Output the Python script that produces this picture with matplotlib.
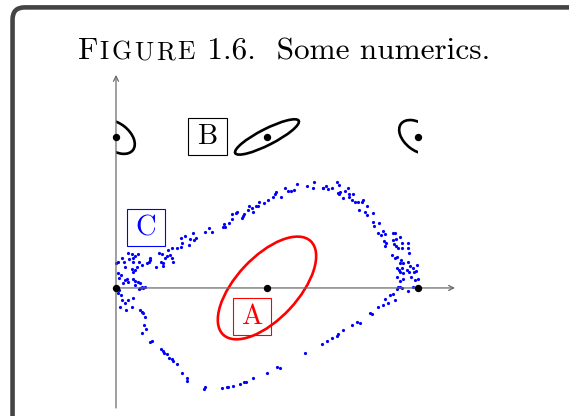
import numpy as np
import matplotlib.pyplot as plt
from matplotlib.patches import Ellipse, Rectangle, FancyBboxPatch

FONT = "cmr10"

# fixed points of the map: hyperbolic on the axis ends, elliptic in between
fixed_x = [0, 1, 2, 0, 1, 2]
fixed_y = [0, 0, 0, 1, 1, 1]

# invariant curve around (1, 0): centre x, centre y, semi-axes, tilt in degrees
curve_A = (1.0, 0.0, 0.424, 0.205, 47)
# islands on the upper row; x = 0 and x = 2 are the same point (periodic)
island_edge = (0.142, 0.089, -38)
island_mid = (1.0, 1.0, 0.236, 0.053, 27)

labels = ["A", "B", "C"]
label_x = [0.901, 0.606, 0.197]
label_y = [-0.190, 1.002, 0.399]
label_col = ["red", "black", "blue"]

# one long chaotic orbit, split by where it sits
orbit_left = [
    (0.000, 0.163), (0.015, 0.174), (0.038, 0.196), (0.053, 0.174), (0.060, 0.141),
    (0.082, 0.234), (0.104, 0.225), (0.088, 0.190), (0.110, 0.196), (0.115, 0.174),
    (0.126, 0.212), (0.148, 0.225), (0.155, 0.174), (0.170, 0.152), (0.141, 0.137),
    (0.126, 0.119), (0.115, 0.108), (0.104, 0.124), (0.015, 0.097), (0.031, 0.086),
    (0.022, 0.064), (0.060, 0.053), (0.049, 0.035), (0.082, 0.042), (0.071, 0.057),
    (0.115, 0.057), (0.126, 0.049), (0.148, 0.042), (0.159, 0.031), (0.126, 0.020),
    (0.159, -0.002), (0.170, 0.009), (0.181, -0.002), (0.192, 0.009), (0.155, -0.009),
    (0.022, -0.013), (0.015, -0.035), (0.031, -0.046), (0.038, -0.079), (0.060, -0.097),
    (0.082, -0.079), (0.104, -0.124), (0.115, -0.068), (0.026, -0.128), (0.066, -0.146),
    (0.159, -0.146), (0.170, -0.157), (0.181, -0.168), (0.192, -0.190), (0.287, 0.234),
    (0.302, 0.225), (0.296, 0.174), (0.313, 0.163), (0.309, 0.146), (0.265, 0.141),
    (0.325, 0.196), (0.336, 0.212), (0.358, 0.219), (0.369, 0.196), (0.375, 0.174),
    (0.347, 0.252), (0.369, 0.263), (0.402, 0.263), (0.225, 0.185), (0.221, 0.174),
    (0.203, 0.163), (0.225, 0.196),
]
orbit_upper = [
    (0.428, 0.329), (0.435, 0.296), (0.430, 0.274), (0.457, 0.344), (0.490, 0.325),
    (0.486, 0.285), (0.512, 0.366), (0.517, 0.318), (0.530, 0.333), (0.589, 0.369),
    (0.618, 0.400), (0.634, 0.373), (0.706, 0.406), (0.715, 0.422), (0.722, 0.406),
    (0.751, 0.428), (0.766, 0.455), (0.766, 0.488), (0.795, 0.494), (0.799, 0.501),
    (0.832, 0.466), (0.843, 0.479), (0.848, 0.488), (0.872, 0.517), (0.881, 0.545),
    (0.898, 0.532), (0.909, 0.505), (0.927, 0.545), (0.938, 0.545), (0.947, 0.572),
    (0.980, 0.561), (1.009, 0.583), (1.038, 0.600), (1.053, 0.620), (1.057, 0.638),
    (1.091, 0.605), (1.119, 0.660), (1.141, 0.645),
    (1.157, 0.642), (1.179, 0.649), (1.201, 0.687), (1.267, 0.675), (1.302, 0.664),
    (1.311, 0.700), (1.369, 0.660), (1.373, 0.664), (1.391, 0.678), (1.406, 0.653),
    (1.430, 0.664), (1.466, 0.700), (1.479, 0.682), (1.483, 0.634), (1.468, 0.627),
    (1.479, 0.621), (1.505, 0.594), (1.517, 0.642), (1.539, 0.660), (1.545, 0.621),
    (1.545, 0.605), (1.572, 0.623), (1.561, 0.583), (1.583, 0.568), (1.605, 0.568),
    (1.609, 0.517), (1.638, 0.583),
]
orbit_right = [
    (1.627, 0.572), (1.660, 0.543), (1.649, 0.505), (1.660, 0.483), (1.700, 0.499),
    (1.704, 0.439), (1.709, 0.411), (1.744, 0.433), (1.737, 0.366), (1.753, 0.351),
    (1.766, 0.377), (1.781, 0.355), (1.775, 0.313), (1.788, 0.300), (1.781, 0.278),
    (1.837, 0.362), (1.848, 0.366), (1.854, 0.322), (1.837, 0.318), (1.843, 0.291),
    (1.854, 0.278), (1.881, 0.340), (1.892, 0.296), (1.870, 0.263), (1.892, 0.263),
    (1.932, 0.296), (1.936, 0.263), (1.943, 0.234), (1.826, 0.219), (1.848, 0.196),
    (1.859, 0.203), (1.885, 0.185), (1.881, 0.163), (1.903, 0.168), (1.936, 0.174),
    (1.947, 0.146), (1.996, 0.152), (1.863, 0.130), (1.876, 0.119), (1.881, 0.108),
    (1.892, 0.130), (1.898, 0.101), (1.925, 0.119), (1.943, 0.108), (1.965, 0.130),
    (1.976, 0.108), (1.987, 0.115), (1.859, 0.075), (1.881, 0.048), (1.903, 0.058),
    (1.951, 0.071), (1.980, 0.053), (2.002, 0.058), (1.870, 0.009), (1.881, 0.004),
    (1.892, -0.002), (1.863, -0.009), (1.936, -0.018), (1.969, 0.009), (1.815, -0.046),
    (1.837, -0.042), (1.781, -0.075),
]
orbit_lower = [
    (1.848, -0.079), (1.804, -0.101), (1.770, -0.113), (1.737, -0.128), (1.682, -0.164),
    (1.693, -0.174), (1.616, -0.234), (1.594, -0.223), (1.561, -0.245), (1.506, -0.278),
    (1.472, -0.305), (1.461, -0.318), (1.428, -0.333), (1.395, -0.351), (1.362, -0.371),
    (1.252, -0.433), (1.086, -0.532), (1.064, -0.525), (0.998, -0.565),
    (0.905, -0.596), (0.861, -0.623), (0.850, -0.623), (0.821, -0.638), (0.777, -0.647),
    (0.744, -0.658), (0.733, -0.658), (0.704, -0.662), (0.585, -0.667), (0.589, -0.658),
    (0.470, -0.616), (0.472, -0.594), (0.439, -0.563), (0.402, -0.503), (0.375, -0.486),
    (0.369, -0.472), (0.353, -0.461), (0.336, -0.439), (0.318, -0.428), (0.313, -0.417),
    (0.296, -0.404), (0.225, -0.358), (0.236, -0.349), (0.170, -0.296), (0.197, -0.274),
    (0.188, -0.245),
]


fig = plt.figure(figsize=(5.69, 4.16), dpi=100)
ax = fig.add_axes([0, 0, 1, 1])
ax.set_xlim(-0.768, 3.0)
ax.set_ylim(-0.848, 1.907)
ax.set_aspect("equal")
ax.axis("off")

# rounded frame, runs off the right and bottom edges
frame = FancyBboxPatch((-0.685, -0.95), 3.9, 2.808,
                       boxstyle="round,pad=0,rounding_size=0.08",
                       fc="none", ec="#444444", lw=3.3, clip_on=False)
ax.add_patch(frame)

# axes with arrow heads
axis_col = "#6a6a6a"
arrow = dict(arrowstyle="->", color=axis_col, lw=0.9, shrinkA=0, shrinkB=0,
             mutation_scale=9)
ax.annotate("", xy=(0, 1.411), xytext=(0, -0.795), arrowprops=arrow)
ax.annotate("", xy=(2.245, 0), xytext=(0, 0), arrowprops=arrow)

# the orbit
orbit = np.array(orbit_left + orbit_upper + orbit_right + orbit_lower)
ax.plot(orbit[:, 0], orbit[:, 1], "o", color="#0000ff", ms=2.3, mew=0)

# curve around the lower elliptic point
cx, cy, a, b, ang = curve_A
ax.add_patch(Ellipse((cx, cy), 2 * a, 2 * b, angle=ang, fill=False,
                     ec="#ff0000", lw=1.9))

# upper row islands
cx, cy, a, b, ang = island_mid
ax.add_patch(Ellipse((cx, cy), 2 * a, 2 * b, angle=ang, fill=False,
                     ec="black", lw=1.9))
a, b, ang = island_edge
for cx, x0 in [(0.0, 0.0), (2.0, 1.0)]:
    e = Ellipse((cx, 1.0), 2 * a, 2 * b, angle=ang, fill=False, ec="black", lw=1.9)
    ax.add_patch(e)
    e.set_clip_path(Rectangle((x0, 0.5), 1.0, 1.0, transform=ax.transData))

ax.plot(fixed_x, fixed_y, "o", color="black", ms=5.3, mew=0, zorder=5)

# region labels
bw, bh = 0.254, 0.243
for s, x, y, c in zip(labels, label_x, label_y, label_col):
    ax.add_patch(Rectangle((x - bw / 2, y - bh / 2), bw, bh, fill=False,
                           ec=c, lw=0.8, zorder=6))
    ax.text(x, y - 0.003, s, color=c, fontsize=20.5, family=FONT,
            ha="center", va="center", zorder=7)

# caption; small caps set by hand, letter by letter with a little tracking
pieces = [("F", 22.5, 1.0)] + [(ch, 18.5, 2.6) for ch in "IGURE"] + \
         [(" 1.6.  Some numerics.", 22.5, 0)]
r = fig.canvas.get_renderer()
W = fig.bbox.width
x = 78 / W
for s, size, gap in pieces:
    t = fig.text(x, 1 - 59 / 416, s, fontsize=size, family=FONT, va="baseline")
    bb = t.get_window_extent(r)
    x = (bb.x1 + gap) / W

fig.savefig("out.png", dpi=100)
